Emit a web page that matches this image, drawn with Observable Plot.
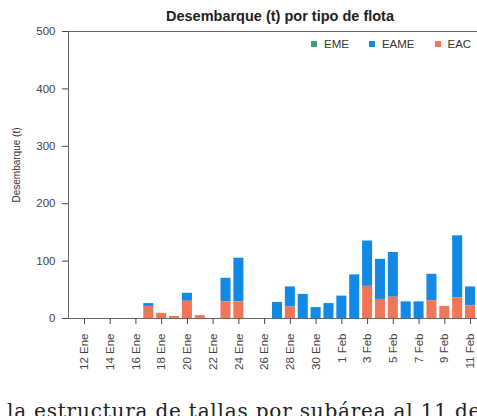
<!DOCTYPE html>
<html>
<head>
<meta charset="utf-8">
<script src="https://cdn.jsdelivr.net/npm/d3@7"></script>
<script src="https://cdn.jsdelivr.net/npm/@observablehq/plot@0.6"></script>
<style>
  html, body { margin: 0; padding: 0; background: #fff; overflow: hidden; }
  #wrap { position: relative; width: 477px; height: 416px; overflow: hidden; font-family: "Liberation Sans", Arial, sans-serif; }
  #chart { position: absolute; left: 0; top: 0; width: 496px; height: 373px; }
  #chart svg { max-width: none !important; width: 496px !important; height: 373px !important; }
  #title { position: absolute; left: 70px; width: 420px; top: 5px; line-height: 22px; text-align: center; font-weight: bold; font-size: 14.5px; color: #222; }
  #ylab { position: absolute; left: 16px; top: 165px; transform: translate(-50%, -50%) rotate(-90deg); font-size: 10px; color: #333; white-space: nowrap; }
  #legend { position: absolute; left: 311px; top: 38px; display: flex; align-items: center; font-size: 11.5px; color: #333; white-space: nowrap; }
  #legend .it { display: flex; align-items: center; margin-right: 20px; }
  #legend .sw { width: 6px; height: 6px; margin-right: 7px; }
  #doc { position: absolute; left: 7px; top: 401px; font-family: "DejaVu Serif", serif; font-size: 20px; line-height: 20px; letter-spacing: 0.8px; color: #222; white-space: nowrap; }
</style>
</head>
<body>
<div id="wrap">
  <div id="chart"></div>
  <div id="title">Desembarque (t) por tipo de flota</div>
  <div id="ylab">Desembarque (t)</div>
  <div id="legend"></div>
  <div id="doc">la estructura de tallas por subárea al 11 de</div>
</div>
<script>
const dias = ["12 Ene","13 Ene","14 Ene","15 Ene","16 Ene","17 Ene","18 Ene","19 Ene","20 Ene","21 Ene","22 Ene","23 Ene","24 Ene","25 Ene","26 Ene","27 Ene","28 Ene","29 Ene","30 Ene","31 Ene","1 Feb","2 Feb","3 Feb","4 Feb","5 Feb","6 Feb","7 Feb","8 Feb","9 Feb","10 Feb","11 Feb"];
const tickLabels = ["12 Ene","14 Ene","16 Ene","18 Ene","20 Ene","22 Ene","24 Ene","26 Ene","28 Ene","30 Ene","1 Feb","3 Feb","5 Feb","7 Feb","9 Feb","11 Feb"];
const yTicks = [0, 100, 200, 300, 400, 500];
const series = ["EME", "EAME", "EAC"];
const eme  = [0,0,0,0,0,0,0,0,0,0,0,0,0,0,0,0,0,0,0,0,0,0,0,0,0,0,0,0,0,0,0];
const eame = [0,0,0,0,0,5,0,0,14,0,0,41,76,0,0,28,35,42,19,26,39,76,79,70,78,29,29,46,0,108,33];
const eac  = [0,0,0,0,0,21,9,3.5,30,5,0,29,29,0,0,0,20,0,0,0,0,0,56,33,37,0,0,31,21,36,22];

const valores = {EME: eme, EAME: eame, EAC: eac};
const rows = [];
for (const s of series) {
  dias.forEach((d, i) => { if (valores[s][i] > 0) rows.push({dia: d, serie: s, valor: valores[s][i]}); });
}

const colorRange = ["#3aa067", "#1389e6", "#f0765a"];

const chart = Plot.plot({
  width: 496,
  height: 373,
  marginLeft: 68,
  marginRight: 10,
  marginTop: 31,
  marginBottom: 55,
  style: {fontFamily: "Liberation Sans, Arial, sans-serif", background: "transparent"},
  x: {type: "band", domain: dias, paddingInner: 0.22, paddingOuter: 0.85, round: false, axis: null},
  y: {domain: [0, 500], axis: null},
  color: {domain: series, range: colorRange},
  marks: [
    Plot.barY(rows, {x: "dia", y: "valor", fill: "serie", order: ["EAC", "EAME", "EME"]}),
    Plot.frame({stroke: "#666"}),
    Plot.axisY({ticks: yTicks, tickSize: 6, tickPadding: 7, fontSize: 11.5, label: null, color: "#444"}),
    Plot.axisX({ticks: tickLabels, tickRotate: -90, tickSize: 6, tickPadding: 9, fontSize: 11.5, label: null, color: "#444"})
  ]
});
document.getElementById("chart").appendChild(chart);

const legend = document.getElementById("legend");
series.forEach((s, i) => {
  const it = document.createElement("div");
  it.className = "it";
  const sw = document.createElement("div");
  sw.className = "sw";
  sw.style.background = colorRange[i];
  const t = document.createElement("span");
  t.textContent = s;
  it.appendChild(sw);
  it.appendChild(t);
  legend.appendChild(it);
});
</script>
</body>
</html>
